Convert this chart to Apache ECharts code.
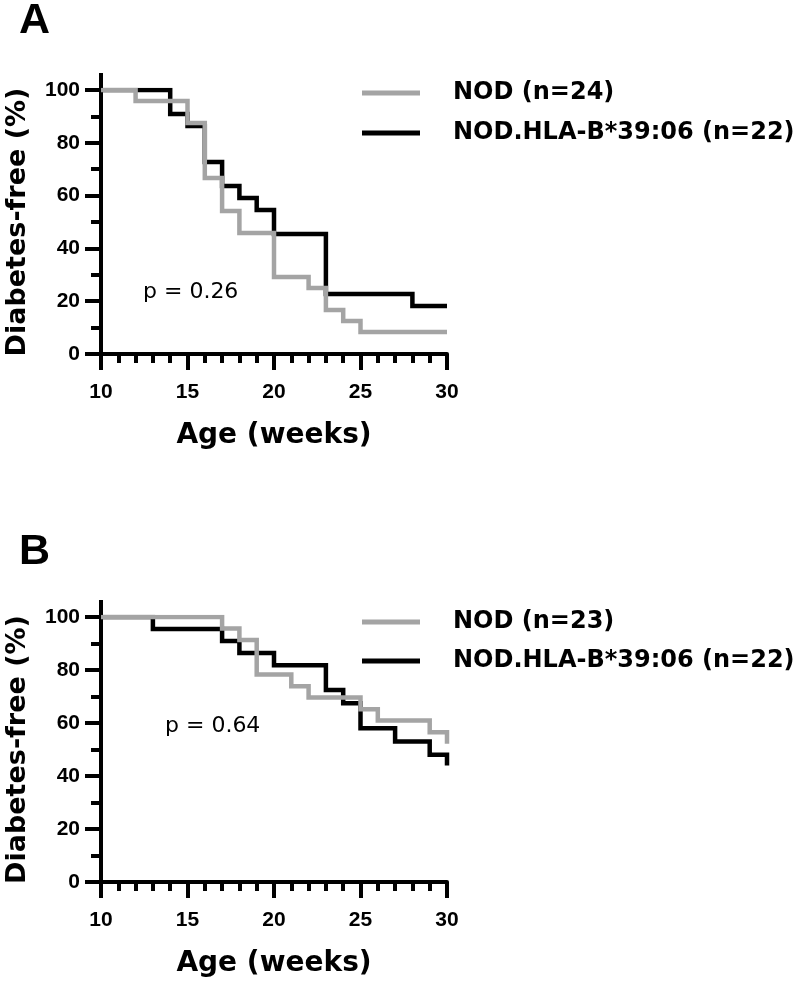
<!DOCTYPE html>
<html>
<head>
<meta charset="utf-8">
<script src="https://cdn.jsdelivr.net/npm/echarts@6/dist/echarts.min.js"></script>
<style>html,body{margin:0;padding:0;background:#fff}#c{width:800px;height:984px}</style>
</head>
<body>
<div id="c"></div>
<script>
// ---- Data ----
const xMin = 10, xMax = 30, xStep = 5;     // x tick labels: 10, 15, 20, 25, 30
const yMin = 0, yMax = 100, yStep = 20;    // y tick labels: 0, 20, ... 100

// Panel A
const nodA_name = 'NOD (n=24)';
const nodA_weeks = [10, 12, 15, 16, 17, 18, 20, 22, 23, 24, 25, 30];
const nodA_surv  = [100, 95.8, 87.5, 66.7, 54.2, 45.8, 29.2, 25.0, 16.7, 12.5, 8.3, 8.3];
const hlaA_name = 'NOD.HLA-B*39:06 (n=22)';
const hlaA_weeks = [10, 14, 15, 16, 17, 18, 19, 20, 23, 28, 30];
const hlaA_surv  = [100, 90.9, 86.4, 72.7, 63.6, 59.1, 54.5, 45.5, 22.7, 18.2, 18.2];
const pA = 'p = 0.26';

// Panel B
const nodB_name = 'NOD (n=23)';
const nodB_weeks = [10, 17, 18, 19, 21, 22, 25, 26, 29, 30];
const nodB_surv  = [100, 95.7, 91.3, 78.3, 73.9, 69.6, 65.2, 60.9, 56.5, 52.2];
const hlaB_name = 'NOD.HLA-B*39:06 (n=22)';
const hlaB_weeks = [10, 13, 17, 18, 20, 23, 24, 25, 27, 29, 30];
const hlaB_surv  = [100, 95.5, 90.9, 86.4, 81.8, 72.5, 67.5, 58.0, 53.0, 48.0, 44.0];
const pB = 'p = 0.64';

const xTitle = 'Age (weeks)';
const yTitle = 'Diabetes-free (%)';

// ---- Chart ----
const pairs = (xs, ys) => xs.map((x, i) => [x, ys[i]]);
const GRAY = '#a4a4a4', BLACK = '#000000';
const FONT = 'DejaVu Sans';
const NUMFONT = 'Liberation Sans';

function xAxis(gi) {
  return { type: 'value', gridIndex: gi, min: xMin, max: xMax, interval: xStep,
    axisLine: { show: true, onZero: false, lineStyle: { color: BLACK, width: 4 } },
    axisTick: { show: true, inside: false, length: 16, lineStyle: { color: BLACK, width: 4 } },
    minorTick: { show: true, splitNumber: 5, length: 9, lineStyle: { color: BLACK, width: 4 } },
    axisLabel: { show: true, margin: 28, color: BLACK, fontFamily: NUMFONT, fontSize: 21,
                 fontWeight: 'bold' },
    splitLine: { show: false }, minorSplitLine: { show: false },
    name: xTitle, nameLocation: 'middle', nameGap: 68,
    nameTextStyle: { color: BLACK, fontFamily: FONT, fontWeight: 'bold', fontSize: 28 } };
}
function yAxis(gi) {
  return { type: 'value', gridIndex: gi, min: yMin, max: yMax, interval: yStep,
    axisLine: { show: true, onZero: false, symbol: ['none', 'rect'], symbolSize: [4, 34],
                lineStyle: { color: BLACK, width: 4 } },
    axisTick: { show: true, inside: false, length: 16, lineStyle: { color: BLACK, width: 4 } },
    minorTick: { show: true, splitNumber: 2, length: 10, lineStyle: { color: BLACK, width: 4 } },
    axisLabel: { show: true, margin: 21, color: BLACK, fontFamily: NUMFONT, fontSize: 21,
                 fontWeight: 'bold' },
    splitLine: { show: false }, minorSplitLine: { show: false },
    name: yTitle, nameLocation: 'middle', nameRotate: 90, nameGap: 70,
    nameTextStyle: { color: BLACK, fontFamily: FONT, fontWeight: 'bold', fontSize: 27 } };
}
function line(name, data, color, gi, z) {
  return { type: 'line', name, data, step: 'end', xAxisIndex: gi, yAxisIndex: gi,
           showSymbol: false, symbol: 'none', color, z,
           lineStyle: { color, width: 4.5, cap: 'butt', join: 'miter' },
           silent: true };
}
function legend(data, top, gap) {
  return { show: true, orient: 'vertical', left: 362, top, itemGap: gap, padding: 0,
           itemWidth: 58, itemHeight: 5, icon: 'rect', selectedMode: false, data,
           textStyle: { color: BLACK, fontFamily: FONT, fontWeight: 'bold', fontSize: 24,
                        lineHeight: 26, padding: [0, 0, 0, 28] } };
}
function label(text, left, top, family, weight, size) {
  return { text, left, top, padding: 0,
           textStyle: { fontFamily: family, fontWeight: weight, fontSize: size, color: BLACK } };
}

const chart = echarts.init(document.getElementById('c'), null, { renderer: 'canvas' });
chart.setOption({
  animation: false,
  backgroundColor: '#ffffff',
  title: [
    label('A', 19, 0, 'Liberation Sans', 'bold', 43),
    label('B', 19, 531, 'Liberation Sans', 'bold', 43),
    label(pA, 143, 281, FONT, 'normal', 22),
    label(pB, 165, 715, FONT, 'normal', 22)
  ],
  legend: [
    legend([nodA_name, hlaA_name], 80, 14),
    legend([nodB_name, hlaB_name], 609, 13)
  ],
  grid: [
    { left: 101, top: 90, width: 346, height: 264 },
    { left: 101, top: 617, width: 346, height: 265 }
  ],
  xAxis: [xAxis(0), xAxis(1)],
  yAxis: [yAxis(0), yAxis(1)],
  series: [
    line(hlaA_name, pairs(hlaA_weeks, hlaA_surv), BLACK, 0, 2),
    line(nodA_name, pairs(nodA_weeks, nodA_surv), GRAY, 0, 3),
    line(hlaB_name, pairs(hlaB_weeks, hlaB_surv), BLACK, 1, 2),
    line(nodB_name, pairs(nodB_weeks, nodB_surv), GRAY, 1, 3)
  ]
});
</script>
</body>
</html>
